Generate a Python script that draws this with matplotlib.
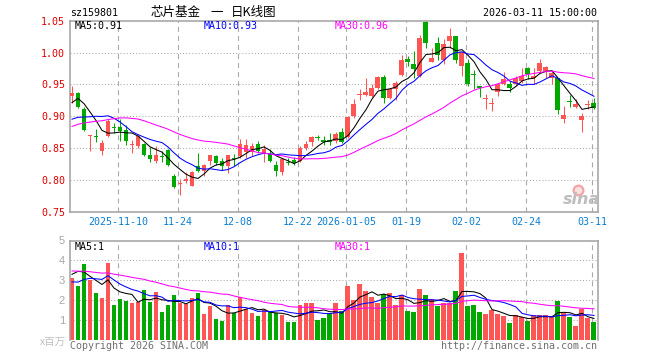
import math
import matplotlib
matplotlib.use("Agg")
import matplotlib.pyplot as plt
import numpy as np

plt.rcParams['lines.scale_dashes'] = False
plt.rcParams['font.family'] = ['DejaVu Sans Mono']

# ---------------- data ----------------
open_ = [0.931, 0.9365, 0.9115, 0.869, 0.869, 0.846, 0.869, 0.8823, 0.8823, 0.8787,
         0.8555, 0.8537, 0.8568, 0.8396, 0.8292, 0.838, 0.8464, 0.8068, 0.7932, 0.7979,
         0.791, 0.8214, 0.8135, 0.829, 0.838, 0.8292, 0.8214, 0.834, 0.838, 0.8432,
         0.8432, 0.8568, 0.8411, 0.8406, 0.824, 0.812, 0.8266, 0.8318, 0.8292, 0.85,
         0.8589, 0.866, 0.863, 0.863, 0.8615, 0.8745, 0.8667, 0.9005, 0.934, 0.9333,
         0.9318, 0.9437, 0.9615, 0.9292, 0.9422, 0.9641, 0.9906, 0.9823, 0.963, 1.0479,
         0.9854, 1.0151, 0.989, 1.0188, 1.0266, 0.9786, 0.9839, 0.9646, 0.9474, 0.9274,
         0.9196, 0.9385, 0.95, 0.951, 0.95, 0.9552, 0.975, 0.9604, 0.9708, 0.9708,
         0.9604, 0.9594, 0.8953, 0.9235, 0.9146, 0.8938, 0.918, 0.9214]
high = [0.947, 0.938, 0.915, 0.870, 0.880, 0.863, 0.8953, 0.889, 0.895, 0.886,
        0.863, 0.871, 0.858, 0.851, 0.853, 0.845, 0.8484, 0.810, 0.802, 0.8125,
        0.814, 0.8422, 0.825, 0.8396, 0.8396, 0.834, 0.8396, 0.841, 0.864, 0.864,
        0.8578, 0.8604, 0.855, 0.8484, 0.830, 0.8344, 0.8344, 0.836, 0.8526, 0.8604,
        0.8682, 0.871, 0.8682, 0.8734, 0.8745, 0.8813, 0.9005, 0.9266, 0.942, 0.9604,
        0.95, 0.963, 0.9641, 0.9437, 0.955, 0.9958, 0.9943, 1.0021, 1.0281, 1.0505,
        1.0073, 1.024, 1.0219, 1.0385, 1.0266, 1.0005, 0.99, 0.9719, 0.9474, 0.9354,
        0.9292, 0.951, 0.9698, 0.9552, 0.963, 0.976, 0.9771, 0.975, 0.9906, 0.9786,
        0.9708, 0.9594, 0.9161, 0.9333, 0.9266, 0.9057, 0.925, 0.9281]
low = [0.920, 0.9135, 0.876, 0.846, 0.859, 0.8396, 0.8667, 0.8734, 0.861, 0.855,
       0.842, 0.850, 0.837, 0.8276, 0.8266, 0.8276, 0.8214, 0.7875, 0.777, 0.7943,
       0.7905, 0.812, 0.8057, 0.824, 0.824, 0.816, 0.811, 0.8214, 0.8344, 0.8344,
       0.838, 0.8422, 0.8276, 0.8276, 0.8057, 0.8083, 0.824, 0.824, 0.8276, 0.8464,
       0.8526, 0.862, 0.8552, 0.8547, 0.8573, 0.8573, 0.8656, 0.8979, 0.925, 0.9318,
       0.93, 0.9422, 0.9203, 0.9266, 0.9255, 0.963, 0.9786, 0.9604, 0.9615, 1.0073,
       0.9849, 0.9875, 0.9813, 1.0073, 0.9839, 0.963, 0.9474, 0.9422, 0.9302, 0.912,
       0.9083, 0.9318, 0.949, 0.9385, 0.9474, 0.9526, 0.9578, 0.95, 0.9682, 0.9604,
       0.951, 0.9042, 0.8901, 0.9146, 0.9135, 0.8745, 0.912, 0.9109]
close = [0.936, 0.915, 0.8787, 0.870, 0.867, 0.858, 0.8927, 0.8813, 0.876, 0.8615,
         0.8565, 0.869, 0.8396, 0.8333, 0.8396, 0.836, 0.824, 0.789, 0.7938, 0.802,
         0.813, 0.8135, 0.824, 0.8396, 0.8266, 0.8214, 0.8396, 0.833, 0.8568, 0.8552,
         0.8536, 0.845, 0.8484, 0.8292, 0.8135, 0.8328, 0.826, 0.8266, 0.85, 0.8568,
         0.8667, 0.8652, 0.8589, 0.8589, 0.8719, 0.8599, 0.899, 0.9188, 0.9345, 0.9385,
         0.9437, 0.9615, 0.9292, 0.9422, 0.9526, 0.9875, 0.9854, 0.9734, 1.0229, 1.0151,
         0.9917, 0.9958, 1.0135, 1.0255, 0.9875, 1.0005, 0.951, 0.9641, 0.9448, 0.9278,
         0.920, 0.951, 0.9578, 0.9448, 0.9604, 0.963, 0.9667, 0.963, 0.9828, 0.9771,
         0.9682, 0.9094, 0.9016, 0.9228, 0.9195, 0.9005, 0.9184, 0.9125]
volume = [3.12, 2.7, 3.8, 3.0, 2.35, 2.1, 3.85, 1.75, 2.05, 1.95,
          1.85, 1.9, 2.5, 1.9, 2.4, 1.4, 1.75, 2.25, 1.87, 1.82,
          2.1, 2.35, 1.3, 1.7, 1.05, 0.95, 1.75, 1.35, 2.15, 1.55,
          1.35, 1.2, 1.5, 1.4, 1.35, 1.25, 0.9, 0.9, 1.75, 1.85,
          1.85, 1.0, 1.1, 1.3, 1.85, 1.45, 2.7, 2.0, 2.8, 2.45,
          2.15, 1.85, 2.3, 2.35, 1.75, 2.25, 1.45, 1.4, 2.55, 2.25,
          2.05, 1.7, 1.85, 1.85, 2.45, 4.35, 1.7, 1.75, 1.4, 1.3,
          1.5, 1.3, 1.2, 0.85, 1.25, 1.15, 0.95, 1.25, 1.25, 1.25,
          1.15, 1.95, 1.35, 1.15, 0.7, 1.55, 1.1, 0.9]

# sessions before the visible window (estimated from where the MA lines start)
hist_close = [0.815, 0.82, 0.825, 0.83, 0.835, 0.835, 0.84, 0.839,
              0.86, 0.88, 0.90, 0.92, 0.935, 0.94, 0.93, 0.925, 0.92, 0.91, 0.905, 0.903,
              0.885, 0.875, 0.865, 0.86, 0.861,
              0.882, 0.92, 0.935, 0.934]
hist_volume = [3.2, 3.6, 3.9, 3.4, 3.1, 3.5, 3.8, 3.3, 3.6, 3.7, 3.4, 3.9,
               4.5, 4.2, 3.9, 4.4, 3.8, 4.0, 3.9, 3.8,
               2.8, 2.5, 2.4, 2.6, 2.4,
               1.95, 3.95, 4.1, 3.38]

date_tick_index = [8, 18, 28, 38, 46, 56, 66, 76, 87]
date_tick_labels = ["2025-11-10", "11-24", "12-08", "12-22", "2026-01-05",
                    "01-19", "02-02", "02-24", "03-11"]
price_ticks = [0.75, 0.80, 0.85, 0.90, 0.95, 1.00, 1.05]
volume_ticks = [1, 2, 3, 4, 5]

code = "sz159801"
title_parts = ["芯片基金", "一", "日K线图"]
timestamp = "2026-03-11 15:00:00"

# ---------------- styling ----------------
W, H = 660, 360
RED = '#ff5555'
GREEN = '#00a800'
GRID = '#aaaaaa'
FRAME = '#a0a0a0'
MA_COLORS = {5: '#000000', 10: '#0000ff', 30: '#ff00ff'}
CJK = ['Noto Sans CJK SC', 'DejaVu Sans']


def rect(l, t, r, b):
    return [l / W, 1 - b / H, (r - l) / W, (b - t) / H]


def ftext(x, y, s, **kw):
    fig.text(x / W, 1 - y / H, s, **kw)


def moving_avg(hist, vals, n):
    full = np.array(list(hist) + list(vals), dtype=float)
    out = np.convolve(full, np.ones(n) / n, mode='valid')
    return out[-len(vals):]


fig = plt.figure(figsize=(W / 100, H / 100), dpi=100)
fig.patch.set_facecolor('white')

ax = fig.add_axes(rect(70, 20.7, 597.7, 211.7))
axv = fig.add_axes(rect(70, 240.5, 597.7, 340))

n = len(close)
x = np.arange(n)
o = np.array(open_); c = np.array(close); h = np.array(high); l = np.array(low)
up = c >= o
cols = [RED if u else GREEN for u in up]

xmin, xmax = -0.333, 87.62
grid_x = [i - 0.33 for i in date_tick_index]

for a, ylo, yhi, hgrid in ((ax, 0.75, 1.05, price_ticks[1:-1]), (axv, 0, 5, volume_ticks[:-1])):
    a.set_xlim(xmin, xmax)
    a.set_ylim(ylo, yhi)
    for s in a.spines.values():
        s.set_color(FRAME)
        s.set_linewidth(1.1)
    for yv in hgrid:
        a.axhline(yv, color=GRID, lw=0.75, dashes=(0.75, 1.5), zorder=0)
    for gx in grid_x:
        a.axvline(gx, color=GRID, lw=0.8, dashes=(3.6, 2.9), zorder=0)
    a.tick_params(length=0)
axv.spines['bottom'].set_visible(False)

# candles
body_w = 0.83
ax.vlines(x, l, h, colors=cols, lw=0.75, zorder=2)
body_bottom = np.minimum(o, c)
body_h = np.maximum(np.abs(c - o), 0.0016)
ax.bar(x, body_h, bottom=body_bottom, width=body_w, color=cols, zorder=3, linewidth=0)

for m in (5, 10, 30):
    ax.plot(x, moving_avg(hist_close, close, m), color=MA_COLORS[m], lw=0.75, zorder=4)

ax.set_yticks(price_ticks)
ax.set_yticklabels([f"{v:.2f}" for v in price_ticks])
ax.tick_params(axis='y', colors='#e00000', labelsize=7.2, pad=3.5)
ax.set_xticks(grid_x)
ax.set_xticklabels(date_tick_labels)
ax.tick_params(axis='x', colors='#0a7fd0', labelsize=7.2, pad=4)

# volume
axv.bar(x, volume, width=body_w, color=cols, zorder=2, linewidth=0)
for m in (5, 10, 30):
    axv.plot(x, moving_avg(hist_volume, volume, m), color=MA_COLORS[m], lw=0.75, zorder=4)
axv.set_yticks(volume_ticks)
axv.set_yticklabels([str(v) for v in volume_ticks], family=['Liberation Sans'])
axv.tick_params(axis='y', colors='#a8a8a8', labelsize=8, pad=3.5)
axv.set_xticks([])

# MA legends
pma = {m: moving_avg(hist_close, close, m)[-1] for m in (5, 10, 30)}
vma = {m: moving_avg(hist_volume, volume, m)[-1] for m in (5, 10, 30)}
for m, xp in ((5, 75), (10, 204), (30, 335)):
    ftext(xp, 26, f"MA{m}:{pma[m]:.2f}", color=MA_COLORS[m], fontsize=7.2,
          ha='left', va='center')
    ftext(xp, 246.5, f"MA{m}:{int(vma[m])}", color=MA_COLORS[m], fontsize=7.2,
          ha='left', va='center')

# header
ftext(70, 13.5, code, fontsize=7.2, ha='left', va='center', color='black')
ftext(151, 12.5, title_parts[0], fontsize=9, ha='left', va='center', family=CJK)
ftext(216.5, 12.5, title_parts[1], fontsize=9, ha='center', va='center', family=CJK)
ftext(231, 12.5, title_parts[2], fontsize=9, ha='left', va='center', family=CJK)
ftext(597, 13, timestamp, fontsize=7.2, ha='right', va='center', color='black')

# footer
ftext(66, 342, "x百万", fontsize=7.5, ha='right', va='center', color='#c0c0c0', family=CJK)
ftext(70, 346, "Copyright 2026 SINA.COM", fontsize=7.2, ha='left', va='center', color='#707070')
ftext(597, 346, "http://finance.sina.com.cn", fontsize=7.2, ha='right', va='center', color='#707070')

# watermark (sina logo)
ax.plot([0.962], [0.112], transform=ax.transAxes, marker='o', ms=7, mfc='#fbe0e0',
        mec='#f3a5a5', mew=1.6, zorder=1, clip_on=False)
ftext(581, 200, "sina", fontsize=11.5, ha='center', va='center', color='#bdbdbd',
      family=['DejaVu Sans'], fontweight='bold', style='italic', zorder=2)

fig.savefig("out.png", dpi=100, facecolor='white')
